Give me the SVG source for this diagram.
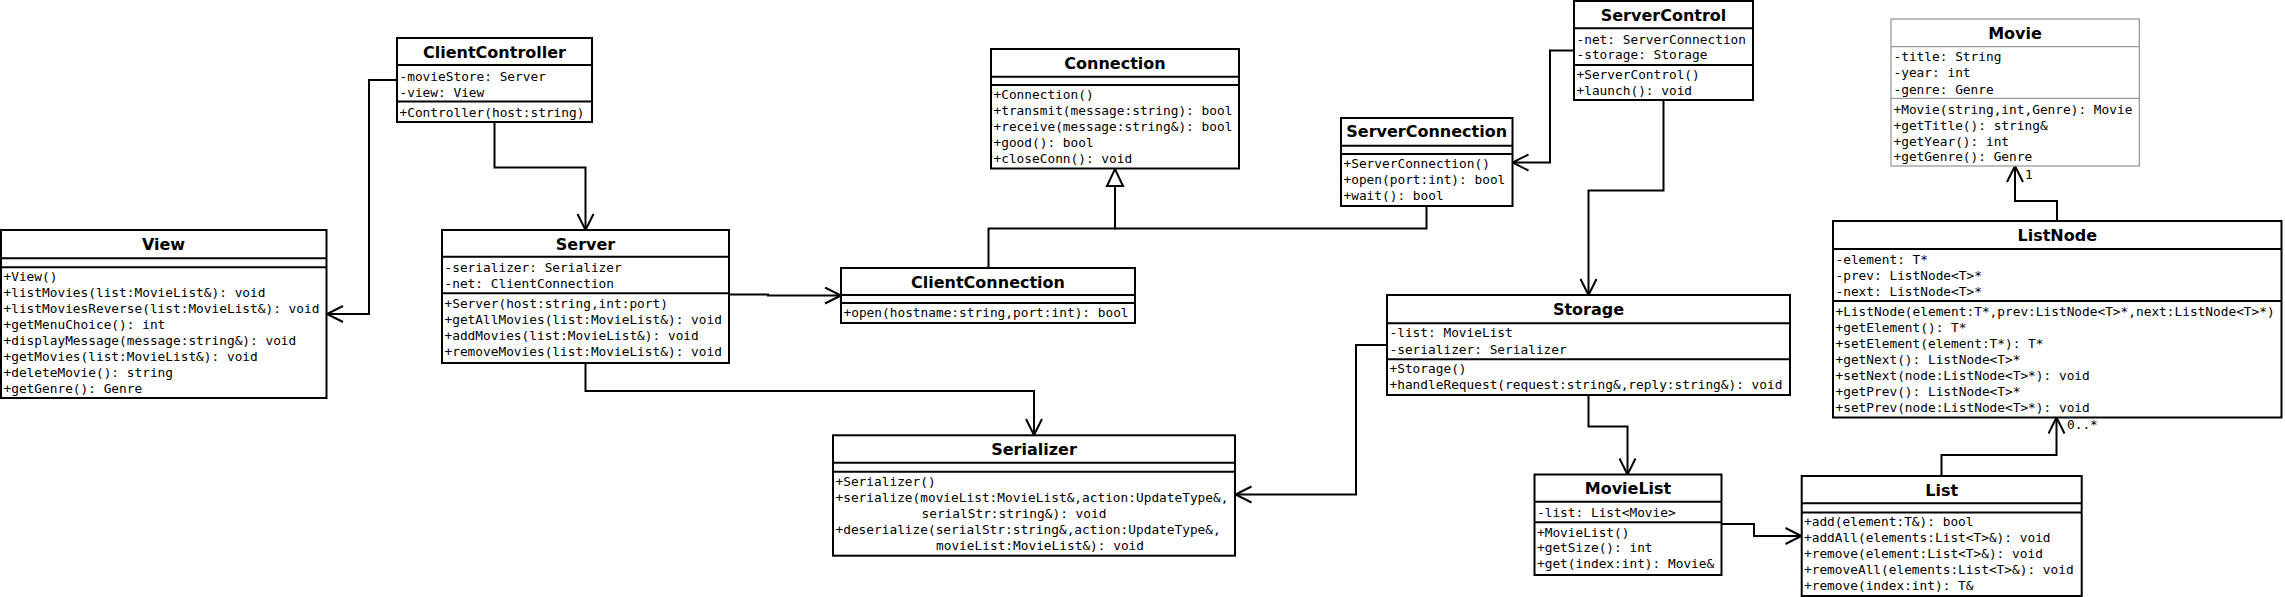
<svg xmlns="http://www.w3.org/2000/svg" width="2285" height="597" viewBox="0 0 2285 597">
<style>
.box{fill:#fff;stroke:#000;stroke-width:2}
.gbox{fill:#fff;stroke:#9a9a9a;stroke-width:1.3}
.dv{stroke:#000;stroke-width:2}
.gdv{stroke:#9a9a9a;stroke-width:1.3}
.t{font-family:"DejaVu Sans","Liberation Sans",sans-serif;font-weight:bold;font-size:16px;text-anchor:middle;fill:#000}
.m{font-family:"DejaVu Sans Mono","Liberation Mono",monospace;font-size:12.8px;fill:#000}
.c{fill:none;stroke:#000;stroke-width:2}
</style>
<defs>
<marker id="open" markerUnits="userSpaceOnUse" markerWidth="20" markerHeight="20" viewBox="0 0 20 20" refX="17" refY="9" orient="auto">
<path d="M1,1 L17,9 L1,17" fill="none" stroke="#000" stroke-width="2"/>
</marker>
<marker id="tri" markerUnits="userSpaceOnUse" markerWidth="22" markerHeight="22" viewBox="0 0 22 22" refX="19" refY="10" orient="auto">
<path d="M2,2 L19,10 L2,18 Z" fill="#fff" stroke="#000" stroke-width="2"/>
</marker>
</defs>
<rect width="2285" height="597" fill="#fff"/>

<g id="connectors">
<polyline class="c" points="397,80 369,80 369,314 327,314" marker-end="url(#open)"/>
<polyline class="c" points="494.5,122 494.5,167.5 585.5,167.5 585.5,230" marker-end="url(#open)"/>
<polyline class="c" points="729,294.5 768,294.5 768,295.5 841,295.5" marker-end="url(#open)"/>
<polyline class="c" points="585.5,363 585.5,391 1034,391 1034,435" marker-end="url(#open)"/>
<polyline class="c" points="988.5,268 988.5,228.5 1115,228.5 1115,169" marker-end="url(#tri)"/>
<polyline class="c" points="1426.5,206 1426.5,228.5 1115,228.5"/>
<polyline class="c" points="1574,50.5 1550,50.5 1550,162.5 1512.5,162.5" marker-end="url(#open)"/>
<polyline class="c" points="1663.5,100 1663.5,190.5 1588.5,190.5 1588.5,295" marker-end="url(#open)"/>
<polyline class="c" points="1387,345 1356,345 1356,494.5 1235.5,494.5" marker-end="url(#open)"/>
<polyline class="c" points="1588.5,395 1588.5,426.5 1627.5,426.5 1627.5,474.5" marker-end="url(#open)"/>
<polyline class="c" points="1721.5,524 1754,524 1754,536 1801.5,536" marker-end="url(#open)"/>
<polyline class="c" points="1941.5,476 1941.5,455 2056.5,455 2056.5,417.5" marker-end="url(#open)"/>
<text class="m" x="2067" y="428.5">0..*</text>
<polyline class="c" points="2057,221 2057,201 2015,201 2015,166" marker-end="url(#open)"/>
<text class="m" x="2025" y="179">1</text>
</g>

<g id="ClientController">
<rect class="box" x="397" y="38" width="195" height="84"/>
<line class="dv" x1="397" y1="65" x2="592" y2="65"/>
<line class="dv" x1="397" y1="101.5" x2="592" y2="101.5"/>
<text class="t" x="494.5" y="57.5">ClientController</text>
<text class="m" x="399.5" y="80.5">-movieStore: Server</text>
<text class="m" x="399.5" y="96.5">-view: View</text>
<text class="m" x="399.5" y="116.5">+Controller(host:string)</text>
</g>

<g id="View">
<rect class="box" x="1" y="230" width="325.5" height="168"/>
<line class="dv" x1="1" y1="258.3" x2="326.5" y2="258.3"/>
<line class="dv" x1="1" y1="267.3" x2="326.5" y2="267.3"/>
<text class="t" x="163.5" y="249.5">View</text>
<text class="m" x="3.5" y="281">+View()</text>
<text class="m" x="3.5" y="297">+listMovies(list:MovieList&amp;): void</text>
<text class="m" x="3.5" y="313">+listMoviesReverse(list:MovieList&amp;): void</text>
<text class="m" x="3.5" y="329">+getMenuChoice(): int</text>
<text class="m" x="3.5" y="345">+displayMessage(message:string&amp;): void</text>
<text class="m" x="3.5" y="361">+getMovies(list:MovieList&amp;): void</text>
<text class="m" x="3.5" y="377">+deleteMovie(): string</text>
<text class="m" x="3.5" y="393">+getGenre(): Genre</text>
</g>

<g id="Server">
<rect class="box" x="442" y="230" width="287" height="133"/>
<line class="dv" x1="442" y1="256.7" x2="729" y2="256.7"/>
<line class="dv" x1="442" y1="293.3" x2="729" y2="293.3"/>
<text class="t" x="585.5" y="249.5">Server</text>
<text class="m" x="444.5" y="272.2">-serializer: Serializer</text>
<text class="m" x="444.5" y="288">-net: ClientConnection</text>
<text class="m" x="444.5" y="307.8">+Server(host:string,int:port)</text>
<text class="m" x="444.5" y="323.8">+getAllMovies(list:MovieList&amp;): void</text>
<text class="m" x="444.5" y="339.8">+addMovies(list:MovieList&amp;): void</text>
<text class="m" x="444.5" y="355.8">+removeMovies(list:MovieList&amp;): void</text>
</g>

<g id="Connection">
<rect class="box" x="991" y="49" width="248" height="119.5"/>
<line class="dv" x1="991" y1="76.7" x2="1239" y2="76.7"/>
<line class="dv" x1="991" y1="85" x2="1239" y2="85"/>
<text class="t" x="1115" y="68.6">Connection</text>
<text class="m" x="993.5" y="98.8">+Connection()</text>
<text class="m" x="993.5" y="115">+transmit(message:string): bool</text>
<text class="m" x="993.5" y="131">+receive(message:string&amp;): bool</text>
<text class="m" x="993.5" y="147">+good(): bool</text>
<text class="m" x="993.5" y="163">+closeConn(): void</text>
</g>

<g id="ClientConnection">
<rect class="box" x="841" y="268" width="294" height="55"/>
<line class="dv" x1="841" y1="295" x2="1135" y2="295"/>
<line class="dv" x1="841" y1="303" x2="1135" y2="303"/>
<text class="t" x="988" y="287.5">ClientConnection</text>
<text class="m" x="843.5" y="317">+open(hostname:string,port:int): bool</text>
</g>

<g id="Serializer">
<rect class="box" x="833" y="435.3" width="402" height="120.4"/>
<line class="dv" x1="833" y1="462.7" x2="1235" y2="462.7"/>
<line class="dv" x1="833" y1="471.7" x2="1235" y2="471.7"/>
<text class="t" x="1034" y="455">Serializer</text>
<text class="m" x="835.5" y="486">+Serializer()</text>
<text class="m" x="835.5" y="502">+serialize(movieList:MovieList&amp;,action:UpdateType&amp;,</text>
<text class="m" x="921.5" y="518">serialStr:string&amp;): void</text>
<text class="m" x="835.5" y="534">+deserialize(serialStr:string&amp;,action:UpdateType&amp;,</text>
<text class="m" x="936" y="550">movieList:MovieList&amp;): void</text>
</g>

<g id="ServerControl">
<rect class="box" x="1574" y="1" width="179" height="99"/>
<line class="dv" x1="1574" y1="28.3" x2="1753" y2="28.3"/>
<line class="dv" x1="1574" y1="65" x2="1753" y2="65"/>
<text class="t" x="1663.5" y="20.6">ServerControl</text>
<text class="m" x="1576.5" y="43.5">-net: ServerConnection</text>
<text class="m" x="1576.5" y="59">-storage: Storage</text>
<text class="m" x="1576.5" y="78.8">+ServerControl()</text>
<text class="m" x="1576.5" y="94.5">+launch(): void</text>
</g>

<g id="ServerConnection">
<rect class="box" x="1341" y="118" width="171.5" height="88"/>
<line class="dv" x1="1341" y1="145.7" x2="1512.5" y2="145.7"/>
<line class="dv" x1="1341" y1="154" x2="1512.5" y2="154"/>
<text class="t" x="1426.7" y="137.3">ServerConnection</text>
<text class="m" x="1343.5" y="167.8">+ServerConnection()</text>
<text class="m" x="1343.5" y="183.8">+open(port:int): bool</text>
<text class="m" x="1343.5" y="199.5">+wait(): bool</text>
</g>

<g id="Storage">
<rect class="box" x="1387" y="295" width="403" height="100"/>
<line class="dv" x1="1387" y1="323.3" x2="1790" y2="323.3"/>
<line class="dv" x1="1387" y1="359.3" x2="1790" y2="359.3"/>
<text class="t" x="1588.5" y="314.6">Storage</text>
<text class="m" x="1389.5" y="337">-list: MovieList</text>
<text class="m" x="1389.5" y="353.5">-serializer: Serializer</text>
<text class="m" x="1389.5" y="373">+Storage()</text>
<text class="m" x="1389.5" y="389">+handleRequest(request:string&amp;,reply:string&amp;): void</text>
</g>

<g id="MovieList">
<rect class="box" x="1534.5" y="474.5" width="187" height="100.5"/>
<line class="dv" x1="1534.5" y1="501.7" x2="1721.5" y2="501.7"/>
<line class="dv" x1="1534.5" y1="522.3" x2="1721.5" y2="522.3"/>
<text class="t" x="1628" y="494">MovieList</text>
<text class="m" x="1537" y="516.8">-list: List&lt;Movie&gt;</text>
<text class="m" x="1537" y="536.8">+MovieList()</text>
<text class="m" x="1537" y="552.4">+getSize(): int</text>
<text class="m" x="1537" y="568">+get(index:int): Movie&amp;</text>
</g>

<g id="List">
<rect class="box" x="1801.7" y="476" width="280" height="120"/>
<line class="dv" x1="1801.7" y1="503.3" x2="2081.7" y2="503.3"/>
<line class="dv" x1="1801.7" y1="512.5" x2="2081.7" y2="512.5"/>
<text class="t" x="1941.7" y="495.6">List</text>
<text class="m" x="1804" y="526">+add(element:T&amp;): bool</text>
<text class="m" x="1804" y="542">+addAll(elements:List&lt;T&gt;&amp;): void</text>
<text class="m" x="1804" y="558">+remove(element:List&lt;T&gt;&amp;): void</text>
<text class="m" x="1804" y="574">+removeAll(elements:List&lt;T&gt;&amp;): void</text>
<text class="m" x="1804" y="589.5">+remove(index:int): T&amp;</text>
</g>

<g id="ListNode">
<rect class="box" x="1833" y="221" width="448.5" height="196.5"/>
<line class="dv" x1="1833" y1="249" x2="2281.5" y2="249"/>
<line class="dv" x1="1833" y1="301" x2="2281.5" y2="301"/>
<text class="t" x="2057.3" y="240.6">ListNode</text>
<text class="m" x="1835.5" y="264">-element: T*</text>
<text class="m" x="1835.5" y="280">-prev: ListNode&lt;T&gt;*</text>
<text class="m" x="1835.5" y="296">-next: ListNode&lt;T&gt;*</text>
<text class="m" x="1835.5" y="316">+ListNode(element:T*,prev:ListNode&lt;T&gt;*,next:ListNode&lt;T&gt;*)</text>
<text class="m" x="1835.5" y="332">+getElement(): T*</text>
<text class="m" x="1835.5" y="348">+setElement(element:T*): T*</text>
<text class="m" x="1835.5" y="364">+getNext(): ListNode&lt;T&gt;*</text>
<text class="m" x="1835.5" y="380">+setNext(node:ListNode&lt;T&gt;*): void</text>
<text class="m" x="1835.5" y="396">+getPrev(): ListNode&lt;T&gt;*</text>
<text class="m" x="1835.5" y="411.5">+setPrev(node:ListNode&lt;T&gt;*): void</text>
</g>

<g id="Movie">
<rect class="gbox" x="1891" y="19" width="248.3" height="147"/>
<line class="gdv" x1="1891" y1="46.7" x2="2139.3" y2="46.7"/>
<line class="gdv" x1="1891" y1="98.3" x2="2139.3" y2="98.3"/>
<text class="t" x="2015" y="38.6">Movie</text>
<text class="m" x="1893.5" y="61">-title: String</text>
<text class="m" x="1893.5" y="77">-year: int</text>
<text class="m" x="1893.5" y="93.5">-genre: Genre</text>
<text class="m" x="1893.5" y="113.5">+Movie(string,int,Genre): Movie</text>
<text class="m" x="1893.5" y="129.5">+getTitle(): string&amp;</text>
<text class="m" x="1893.5" y="145.5">+getYear(): int</text>
<text class="m" x="1893.5" y="161">+getGenre(): Genre</text>
</g>
</svg>
